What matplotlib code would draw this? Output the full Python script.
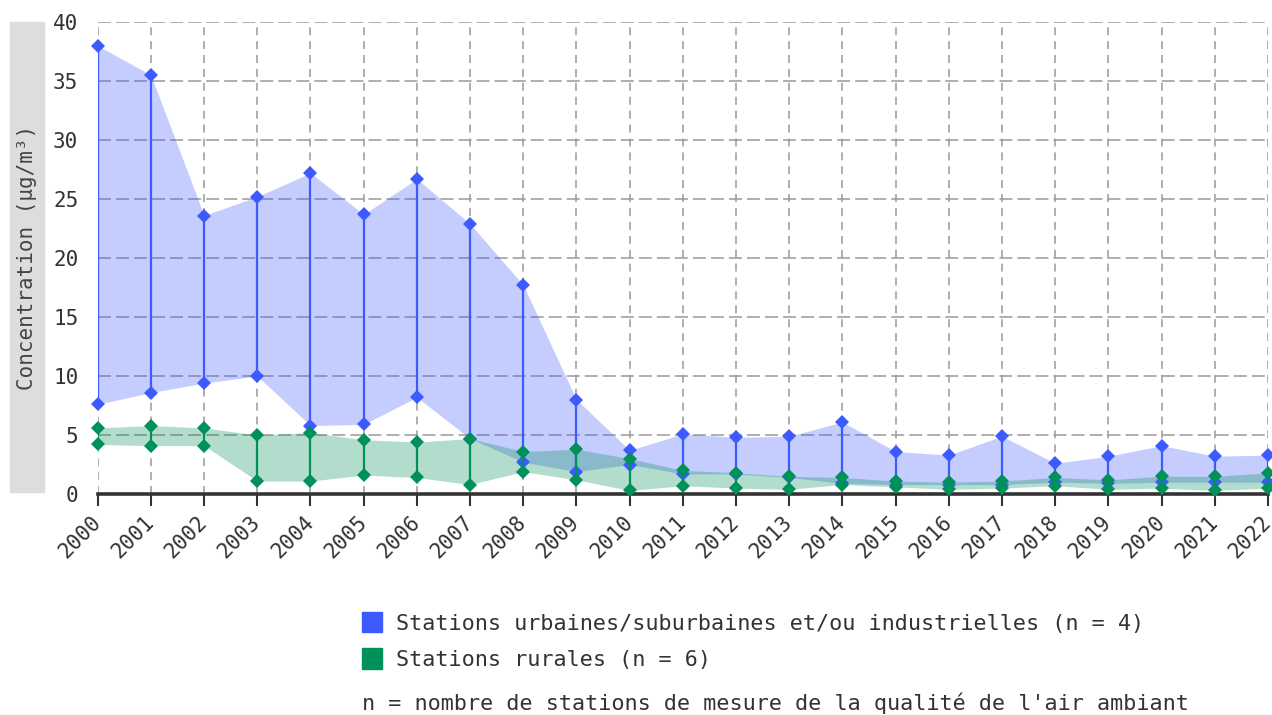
import numpy as np
import matplotlib
matplotlib.use('Agg')
import matplotlib.pyplot as plt
from matplotlib.patches import Patch, Rectangle
from matplotlib.transforms import ScaledTranslation

years = list(range(2000, 2023))

# stations urbaines/suburbaines et/ou industrielles : min et max par année
urban_max = [38.0, 35.5, 23.6, 25.2, 27.2, 23.7, 26.7, 22.9, 17.7, 8.0, 3.7, 5.1,
             4.8, 4.9, 6.1, 3.6, 3.3, 4.9, 2.6, 3.2, 4.1, 3.2, 3.3]
urban_min = [7.6, 8.6, 9.4, 10.0, 5.8, 5.9, 8.2, 4.7, 2.7, 1.9, 2.5, 1.7,
             1.7, 1.4, 0.9, 0.8, 0.8, 0.8, 1.0, 0.9, 1.0, 1.0, 1.0]
# stations rurales
rural_max = [5.6, 5.8, 5.6, 5.0, 5.2, 4.6, 4.4, 4.7, 3.6, 3.8, 3.0, 2.0,
             1.8, 1.5, 1.4, 1.1, 1.0, 1.1, 1.4, 1.2, 1.5, 1.5, 1.8]
rural_min = [4.2, 4.1, 4.1, 1.1, 1.1, 1.6, 1.4, 0.8, 1.9, 1.2, 0.3, 0.7,
             0.5, 0.4, 0.8, 0.6, 0.4, 0.5, 0.7, 0.4, 0.5, 0.3, 0.5]

labels = ['Stations urbaines/suburbaines et/ou industrielles (n = 4)',
          'Stations rurales (n = 6)']
note = "n = nombre de stations de mesure de la qualité de l'air ambiant"
ylabel = 'Concentration (µg/m³)'

blue = '#3d5afe'
green = '#00915a'
txt = '#333333'
mono = 'DejaVu Sans Mono'
fs = 15

W, H = 1272, 715
fig = plt.figure(figsize=(W / 100, H / 100), dpi=100)
ax = fig.add_axes([97.7 / W, 1 - 494 / H, (1268 - 97.7) / W, 472 / H])

ax.fill_between(years, urban_min, urban_max, color=blue, alpha=0.3, lw=0, zorder=1)
ax.fill_between(years, rural_min, rural_max, color=green, alpha=0.3, lw=0, zorder=1.1)

ax.vlines(years, urban_min, urban_max, color=blue, lw=1.6, zorder=3)
ax.plot(years, urban_max, 'D', color=blue, ms=7.5, mew=0, zorder=3, clip_on=False)
ax.plot(years, urban_min, 'D', color=blue, ms=7.5, mew=0, zorder=3, clip_on=False)

ax.vlines(years, rural_min, rural_max, color=green, lw=1.6, zorder=4)
ax.plot(years, rural_max, 'D', color=green, ms=7.5, mew=0, zorder=4, clip_on=False)
ax.plot(years, rural_min, 'D', color=green, ms=7.5, mew=0, zorder=4, clip_on=False)

ax.set_xlim(2000, 2022)
ax.set_ylim(0, 40)
ax.set_xticks(years)
ax.set_yticks(range(0, 41, 5))

ax.set_axisbelow(True)
ax.xaxis.grid(True, color='#999999', lw=1.1, ls=(0, (5.2, 3.9)))
ax.yaxis.grid(True, color='#999999', lw=1.1, ls=(0, (8.5, 3.3)))

for s in ['top', 'right', 'left']:
    ax.spines[s].set_visible(False)
ax.spines['bottom'].set_color(txt)
ax.spines['bottom'].set_linewidth(2.6)

ax.tick_params(axis='y', length=0, pad=14, labelsize=fs, labelcolor=txt)
ax.tick_params(axis='x', length=8.5, width=1.5, color=txt, pad=3,
               labelsize=fs, labelcolor=txt)
for t in ax.get_xticklabels() + ax.get_yticklabels():
    t.set_fontfamily(mono)
off = ScaledTranslation(0, -9 / 100, fig.dpi_scale_trans)
for t in ax.get_xticklabels():
    t.set_rotation(45)
    t.set_ha('right')
    t.set_va('center')
    t.set_rotation_mode('anchor')
    t.set_transform(t.get_transform() + off)

# bandeau gris du titre de l'axe y
fig.patches.append(Rectangle((10 / W, 1 - 492 / H), 34 / W, 470 / H,
                             transform=fig.transFigure, color='#dddddd', zorder=0))
fig.text(27 / W, 1 - 257 / H, ylabel, rotation=90, ha='center', va='center',
         family=mono, fontsize=fs, color='#444444')

handles = [Patch(color=blue), Patch(color=green)]
fig.legend(handles, labels, loc='upper left', bbox_to_anchor=(362 / W, 1 - 612 / H),
           frameon=False, borderpad=0, borderaxespad=0, handlelength=0.93,
           handleheight=1.05, handletextpad=0.62, labelspacing=0.68,
           prop={'family': mono, 'size': 15.7}, labelcolor=txt)

fig.text(362 / W, 1 - 703 / H, note, ha='left', va='center', family=mono,
         fontsize=15.7, color=txt)

fig.savefig('out.png', dpi=100)
